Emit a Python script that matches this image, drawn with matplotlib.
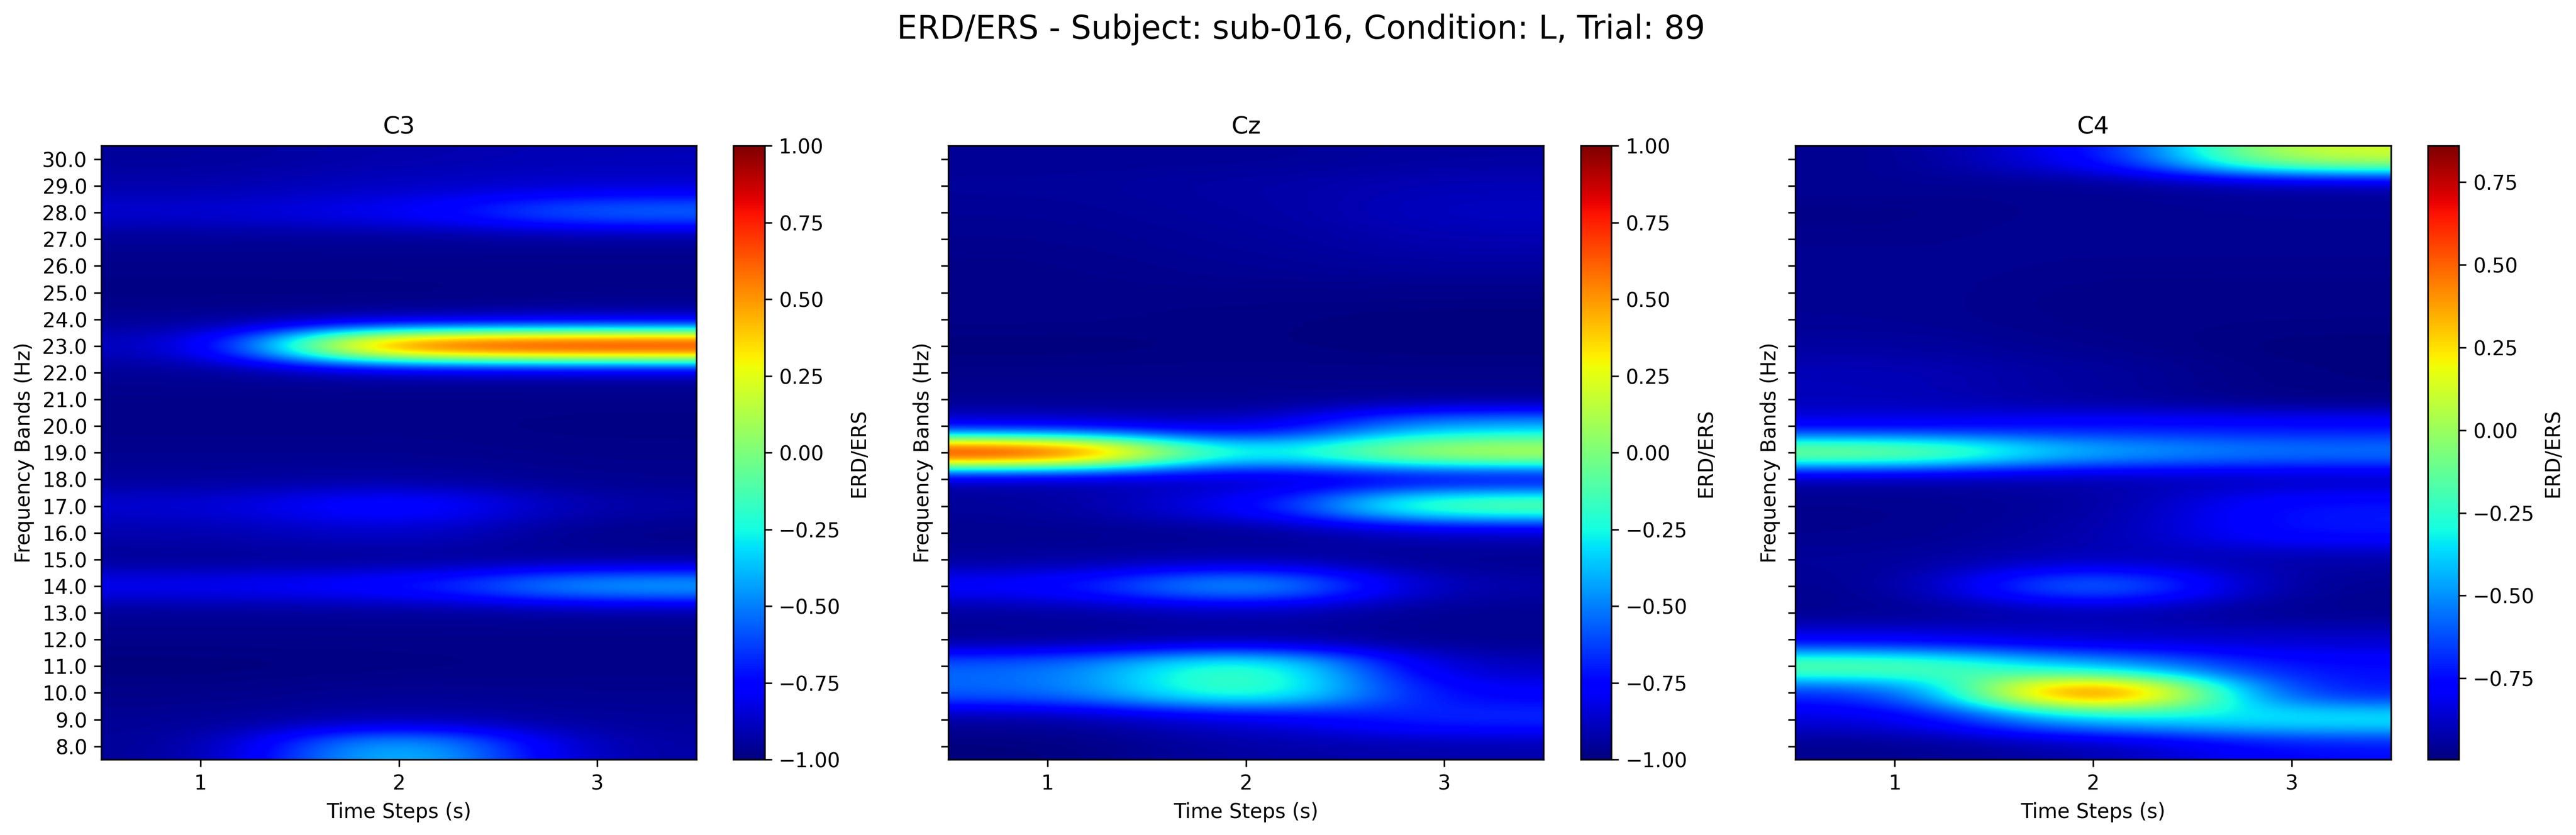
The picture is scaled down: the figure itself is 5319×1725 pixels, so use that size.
import matplotlib
matplotlib.use("Agg")
import matplotlib.pyplot as plt
import numpy as np

W, H = 5319, 1725

freqs = [30, 29, 28, 27, 26, 25, 24, 23, 22, 21, 20, 19, 18, 17, 16, 15, 14, 13, 12, 11, 10, 9, 8]
times = [1, 2, 3]
channels = ["C3", "Cz", "C4"]

# rows go from 30 Hz down to 8 Hz, columns are the three time steps
c3 = [
    [-0.95, -0.92, -0.90],
    [-0.92, -0.88, -0.86],
    [-0.85, -0.78, -0.50],
    [-0.96, -0.96, -0.96],
    [-0.98, -0.98, -0.98],
    [-0.99, -0.99, -0.98],
    [-0.96, -0.96, -0.93],
    [-0.90, 0.92, 1.00],
    [-0.96, -0.95, -0.95],
    [-0.98, -0.98, -0.98],
    [-0.98, -0.98, -0.99],
    [-0.97, -0.97, -0.98],
    [-0.95, -0.94, -0.97],
    [-0.85, -0.68, -0.93],
    [-0.92, -0.86, -0.98],
    [-0.96, -0.96, -0.96],
    [-0.78, -0.72, -0.35],
    [-0.96, -0.96, -0.96],
    [-0.98, -0.98, -0.98],
    [-1.00, -0.99, -0.98],
    [-0.98, -0.96, -0.97],
    [-0.96, -0.92, -0.95],
    [-0.96, -0.27, -0.94],
]
cz = [
    [-0.96, -0.96, -0.94],
    [-0.95, -0.93, -0.90],
    [-0.96, -0.94, -0.88],
    [-0.97, -0.95, -0.91],
    [-0.98, -0.96, -0.94],
    [-0.98, -0.98, -0.98],
    [-0.98, -0.99, -1.00],
    [-1.00, -0.99, -1.00],
    [-0.98, -0.98, -0.98],
    [-0.97, -0.97, -0.97],
    [-0.85, -0.90, -0.40],
    [1.00, -0.31, 0.25],
    [-0.95, -0.90, -0.85],
    [-0.95, -0.78, 0.05],
    [-0.97, -0.97, -0.90],
    [-0.95, -0.93, -0.97],
    [-0.75, -0.30, -0.93],
    [-0.95, -0.92, -0.97],
    [-0.97, -0.95, -0.97],
    [-0.55, -0.05, -0.90],
    [-0.55, -0.05, -0.78],
    [-0.95, -0.85, -0.65],
    [-1.00, -0.93, -0.92],
]
c4 = [
    [-0.97, -0.80, 0.15],
    [-0.96, -0.97, -0.95],
    [-0.98, -0.96, -0.96],
    [-0.97, -0.96, -0.96],
    [-0.96, -0.97, -0.97],
    [-0.96, -0.98, -0.98],
    [-0.96, -0.98, -0.98],
    [-0.94, -0.97, -0.996],
    [-0.90, -0.94, -0.99],
    [-0.90, -0.95, -0.99],
    [-0.82, -0.75, -0.75],
    [0.05, -0.42, -0.52],
    [-0.95, -0.93, -0.90],
    [-0.97, -0.95, -0.72],
    [-0.97, -0.93, -0.72],
    [-0.95, -0.90, -0.93],
    [-0.97, -0.45, -0.97],
    [-0.97, -0.92, -0.97],
    [-0.82, -0.88, -0.87],
    [-0.05, -0.45, -0.75],
    [-0.72, 0.86, -0.75],
    [-0.85, -0.40, -0.28],
    [-0.97, -0.93, -0.75],
]
data = [c3, cz, c4]


def box(x0, x1, y0=301.3, y1=1569.3):
    return [x0 / W, 1 - y1 / H, (x1 - x0) / W, (y1 - y0) / H]


axes_x = [(209.3, 1438.3), (1958.3, 3187.3), (3707.3, 4936.7)]
cbar_x = [(1514.3, 1578.7), (3264.3, 3327.3), (5013.3, 5076.7)]

fig = plt.figure(figsize=(W / 300, H / 300), dpi=300)
fig.suptitle("ERD/ERS - Subject: sub-016, Condition: L, Trial: 89",
             fontsize=16, x=2686 / W, y=1 - 28 / H, va="top")

for i, name in enumerate(channels):
    ax = fig.add_axes(box(*axes_x[i]))
    im = ax.imshow(np.array(data[i]), aspect="auto", cmap="jet", interpolation="gaussian",
                   extent=[0.5, 3.5, 7.5, 30.5])
    ax.set_title(name)
    ax.set_xlabel("Time Steps (s)")
    ax.set_ylabel("Frequency Bands (Hz)")
    ax.set_xticks(times)
    ax.set_yticks(freqs)
    if i == 0:
        ax.set_yticklabels([str(float(f)) for f in freqs])
    else:
        ax.tick_params(labelleft=False)
    cax = fig.add_axes(box(*cbar_x[i]))
    cb = fig.colorbar(im, cax=cax)
    cb.set_label("ERD/ERS")

fig.savefig("out.png", dpi=300)
